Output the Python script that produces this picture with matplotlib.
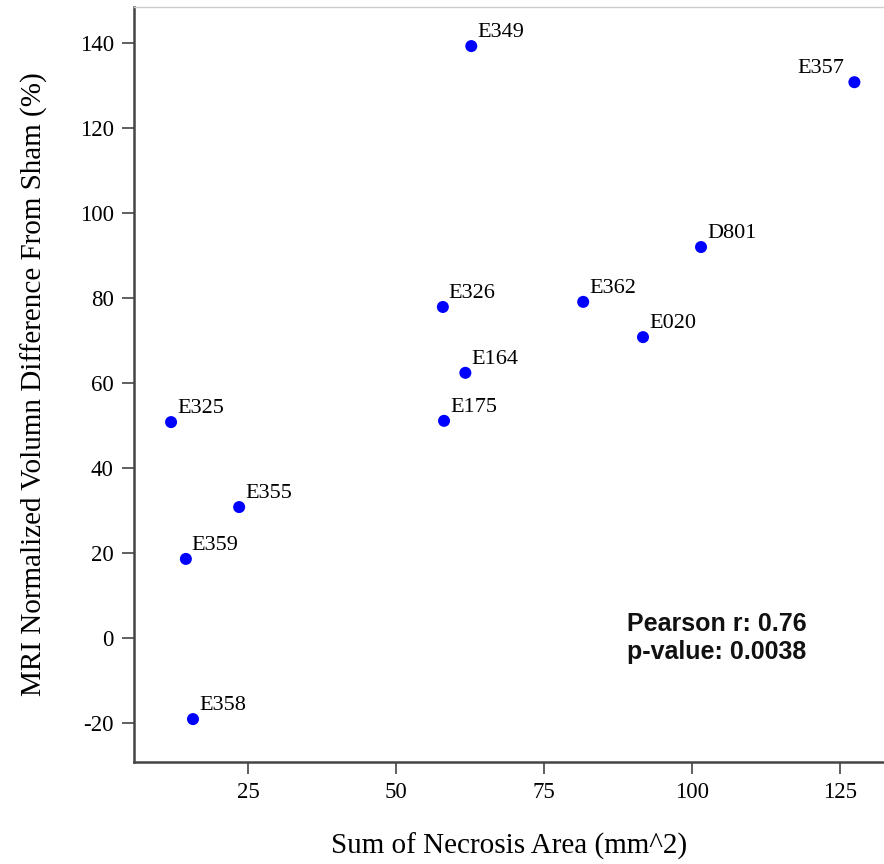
import matplotlib.pyplot as plt

plt.rcParams['axes.unicode_minus'] = False

# necrosis area vs MRI volume difference per animal
ids = ['E349', 'E357', 'D801', 'E362', 'E020', 'E326', 'E164',
       'E175', 'E325', 'E355', 'E359', 'E358']
necrosis_area = [62.7, 127.4, 101.5, 81.6, 91.7, 57.9, 61.7,
                 58.1, 12.0, 23.5, 14.5, 15.7]
volume_diff = [139.3, 130.8, 92.0, 79.1, 70.8, 77.9, 62.4,
               51.1, 50.8, 30.8, 18.6, -19.1]
pearson_r = 0.76
p_value = 0.0038

serif = 'Liberation Serif'
axis_gray = '#444444'

fig = plt.figure(figsize=(8.84, 8.64), dpi=100)
ax = fig.add_axes([134 / 884, 102 / 864, 750 / 884, 755 / 864])

ax.scatter(necrosis_area, volume_diff, s=75, color='#0000ff', zorder=3,
           edgecolors='none')

for name, x, y in zip(ids, necrosis_area, volume_diff):
    if name == 'E357':
        ax.annotate(name, (x, y), xytext=(-10, 9), textcoords='offset pixels',
                    ha='right', va='baseline', family=serif, fontsize=16)
    else:
        ax.annotate(name, (x, y), xytext=(6, 9), textcoords='offset pixels',
                    ha='left', va='baseline', family=serif, fontsize=16)

ax.text(0.657, 0.199, 'Pearson r: %.2f\np-value: %.4f' % (pearson_r, p_value),
        transform=ax.transAxes, ha='left', va='top', family='Liberation Sans',
        fontweight='bold', fontsize=18, linespacing=1.2, color='#111111')

ax.set_xlim(5.74, 132.4)
ax.set_ylim(-29.2, 148.5)
ax.set_xticks([25, 50, 75, 100, 125])
ax.set_yticks([-20, 0, 20, 40, 60, 80, 100, 120, 140])

ax.set_xlabel('Sum of Necrosis Area (mm^2)', family=serif, fontsize=21,
              labelpad=21)
ax.set_ylabel('MRI Normalized Volumn Difference From Sham (%)', family=serif,
              fontsize=21, labelpad=23)

for lab in ax.get_xticklabels() + ax.get_yticklabels():
    lab.set_family(serif)
    lab.set_fontsize(16.5)

ax.tick_params(axis='both', direction='out', length=8.5, width=1.2,
               color=axis_gray)
ax.tick_params(axis='x', pad=6)
ax.tick_params(axis='y', pad=6)

ax.spines['right'].set_visible(False)
ax.spines['top'].set_color('#cccccc')
ax.spines['top'].set_linewidth(1.0)
for side in ('left', 'bottom'):
    ax.spines[side].set_color(axis_gray)
    ax.spines[side].set_linewidth(1.8)

fig.savefig('out.png', dpi=100)
